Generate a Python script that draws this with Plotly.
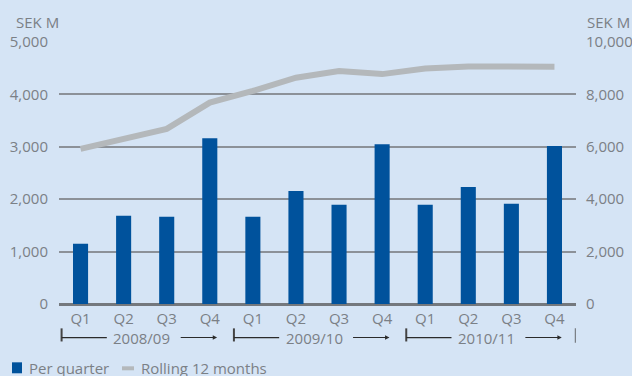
import plotly.graph_objects as go

# Quarterly figures, SEK M
quarters = ["Q1", "Q2", "Q3", "Q4", "Q1", "Q2", "Q3", "Q4", "Q1", "Q2", "Q3", "Q4"]
years = ["2008/09", "2009/10", "2010/11"]
per_quarter = [1150, 1683, 1663, 3165, 1663, 2158, 1892, 3051, 1892, 2234, 1911, 3013]
rolling_12m = [5923, 6280, 6685, 7688, 8130, 8638, 8890, 8775, 8992, 9068, 9080, 9056]

left_ticks = [0, 1000, 2000, 3000, 4000, 5000]
right_ticks = [0, 2000, 4000, 6000, 8000, 10000]

BG = "#d5e4f5"
BLUE = "#00529c"
LINE_GREY = "#b4b8bb"
TEXT_GREY = "#7b8086"
GRID = "#8c9198"
DARK = "#2b2b2b"
FONT = "Open Sans"

x = list(range(len(quarters)))

fig = go.Figure()
fig.add_trace(go.Bar(x=x, y=per_quarter, width=0.35, marker=dict(color=BLUE, line=dict(width=0)),
                     name="Per quarter", yaxis="y"))
fig.add_trace(go.Scatter(x=x, y=rolling_12m, mode="lines", line=dict(color=LINE_GREY, width=6),
                         name="Rolling 12 months", yaxis="y2"))

fig.update_layout(
    width=632, height=376,
    margin=dict(l=59, r=56, t=42, b=72),
    paper_bgcolor=BG, plot_bgcolor=BG,
    showlegend=False,
    font=dict(family=FONT, size=15, color=TEXT_GREY),
    bargap=0.65,
    xaxis=dict(range=[-0.5, 11.5], tickvals=x, ticktext=quarters, showgrid=False,
               zeroline=False, showline=False, ticks="outside", ticklen=1,
               tickcolor="rgba(0,0,0,0)", automargin=False),
    yaxis=dict(range=[0, 5000], tickvals=left_ticks, tickformat=",d", showgrid=True,
               gridcolor=GRID, gridwidth=2, zeroline=True, zerolinecolor="#74787d",
               zerolinewidth=3, ticks="outside", ticklen=7, tickcolor="rgba(0,0,0,0)",
               automargin=False),
    yaxis2=dict(range=[0, 10000], tickvals=right_ticks, tickformat=",d", overlaying="y",
                side="right", showgrid=False, zeroline=False, ticks="outside", ticklen=6,
                tickcolor="rgba(0,0,0,0)", automargin=False),
)

# Unit labels above each axis
fig.add_annotation(text="SEK M", xref="paper", yref="paper", x=-0.087, y=1.075,
                   xanchor="left", yanchor="middle", showarrow=False)
fig.add_annotation(text="SEK M", xref="paper", yref="paper", x=1.018, y=1.075,
                   xanchor="left", yanchor="middle", showarrow=False)

# Fiscal-year brackets under the quarter labels
row_y = -0.128
tick_top, tick_bot = -0.093, -0.143
for g, label in enumerate(years):
    s = 4 * g
    fig.add_shape(type="line", xref="x", yref="paper", x0=s - 0.44, x1=s - 0.44,
                  y0=tick_top, y1=tick_bot, line=dict(color="#444", width=2))
    fig.add_shape(type="line", xref="x", yref="paper", x0=s - 0.44, x1=s + 0.61,
                  y0=row_y, y1=row_y, line=dict(color=DARK, width=1.3))
    fig.add_annotation(text=label, xref="x", yref="paper", x=s + 1.42, y=row_y,
                       xanchor="center", yanchor="middle", showarrow=False)
    fig.add_annotation(text="", xref="x", yref="paper", x=s + 3.17, y=row_y,
                       ax=s + 2.29, axref="x", ay=0, ayref="pixel", showarrow=True,
                       arrowhead=2, arrowsize=0.8, arrowwidth=1.1, arrowcolor=DARK, standoff=0)
fig.add_shape(type="line", xref="x", yref="paper", x0=11.5, x1=11.5,
              y0=tick_top, y1=tick_bot - 0.005, line=dict(color=TEXT_GREY, width=2.5))

# Legend drawn along the bottom edge
leg_y = -0.245
fig.add_shape(type="rect", xref="paper", yref="paper",
              x0=(12 - 59) / 517, x1=(22 - 59) / 517,
              y0=(304.5 - 363) / 262.8, y1=(304.5 - 374) / 262.8,
              fillcolor=BLUE, line=dict(width=0))
fig.add_annotation(text="Per quarter", xref="paper", yref="paper", x=(27 - 59) / 517, y=leg_y,
                   xanchor="left", yanchor="middle", showarrow=False)
fig.add_shape(type="line", xref="paper", yref="paper",
              x0=(122 - 59) / 517, x1=(134 - 59) / 517,
              y0=(304.5 - 369) / 262.8, y1=(304.5 - 369) / 262.8,
              line=dict(color=LINE_GREY, width=4))
fig.add_annotation(text="Rolling 12 months", xref="paper", yref="paper", x=(139 - 59) / 517,
                   y=leg_y, xanchor="left", yanchor="middle", showarrow=False)

fig.write_html("out.html")
